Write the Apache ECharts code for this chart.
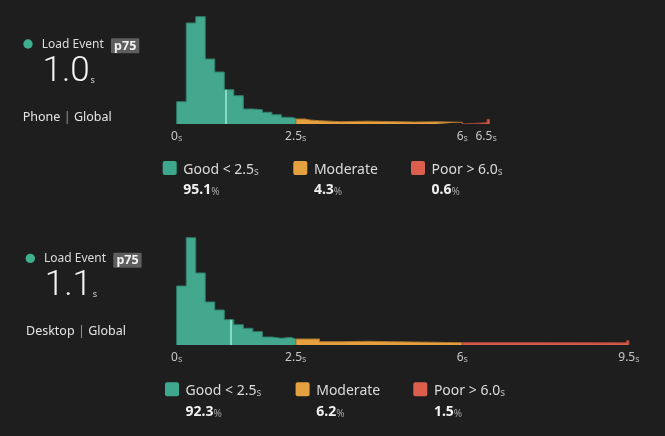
<!DOCTYPE html>
<html>
<head>
<meta charset="utf-8">
<script src="https://cdn.jsdelivr.net/npm/echarts@6/dist/echarts.min.js"></script>
<style>
  html, body { margin: 0; padding: 0; background: #1e1e1e; }
  #chart { width: 665px; height: 436px; }
</style>
</head>
<body>
<div id="chart"></div>
<script>
// histogram bin edges (s) and bar heights
const phoneEdges = [0, 0.2, 0.4, 0.6, 0.8, 1.0, 1.2, 1.4, 1.6, 1.8, 2.0, 2.2, 2.4, 2.5,
  2.7, 2.8, 3.0, 3.45, 4.0, 5.0, 5.45, 6.0, 6.52, 6.57]
const phoneCounts = [22.3, 101, 107.3, 65, 52, 34.3, 28.3, 15, 14.3, 11.7, 9.3, 6.7, 5.7,
  5, 4, 3.3, 2.3, 2.8, 2, 2.2, 1.7, 1.3, 4.7]

const desktopEdges = [0, 0.2, 0.4, 0.6, 0.8, 1.0, 1.2, 1.4, 1.6, 1.8, 2.0, 2.2, 2.4, 2.5,
  3.0, 3.43, 4.0, 4.48, 5.46, 6.0, 7.43, 9.45, 9.5]
const desktopCounts = [59, 107.3, 72, 43, 35, 25.3, 20.3, 16.7, 13.3, 8, 6.7, 7.7, 6,
  6, 3.3, 3.7, 3.3, 2.7, 2.3, 2.4, 2.2, 4.3]

const phoneTicks = [0, 2.5, 6, 6.5]
const desktopTicks = [0, 2.5, 6, 9.5]

const p75Values = [1.04, 1.14]
const phoneShares = [95.1, 4.3, 0.6]
const desktopShares = [92.3, 6.2, 1.5]

const bandLabels = ['Good < 2.5', 'Moderate', 'Poor > 6.0']
const bandUnits = ['s', '', 's']
const GOOD_LIMIT = 2.5
const POOR_LIMIT = 6.0

const COLORS = [
  { fill: '#43a88e', line: '#2f7e6a', key: '#3fa78e' },
  { fill: '#e6a040', line: '#a8742c', key: '#e5a040' },
  { fill: '#d95c49', line: '#a04234', key: '#dc5f4e' }
]
const FONT = '"Noto Sans", "Open Sans", sans-serif'

const panels = [
  { name: 'Phone', edges: phoneEdges, counts: phoneCounts, ticks: phoneTicks,
    shares: phoneShares, p75: p75Values[0],
    gridTop: 14, dx: 0, dy: 0, subDx: 0, legendDx: 0, legendY: 161 },
  { name: 'Desktop', edges: desktopEdges, counts: desktopCounts, ticks: desktopTicks,
    shares: desktopShares, p75: p75Values[1],
    gridTop: 235, dx: 2.3, dy: 214.4, subDx: 3.3, legendDx: 2.3, legendY: 382.3 }
]

const PX_PER_SEC = 47.6
const Y_MAX = 110

// step points for bins lying in [from, to]
function stepData(edges, counts, from, to) {
  const idx = []
  for (let i = 0; i < counts.length; i++) {
    if (edges[i] >= from - 1e-9 && edges[i + 1] <= to + 1e-9) idx.push(i)
  }
  if (!idx.length) return []
  const last = idx[idx.length - 1]
  const pts = [[edges[idx[0]], 0]]
  idx.forEach(i => pts.push([edges[i], counts[i]]))
  pts.push([edges[last + 1], counts[last]])
  pts.push([edges[last + 1], 0])
  return pts
}

function heightAt(edges, counts, x) {
  for (let i = 0; i < counts.length; i++) {
    if (x >= edges[i] && x < edges[i + 1]) return counts[i]
  }
  return 0
}

function buildOption() {
  const grids = []
  const xAxes = []
  const yAxes = []
  const series = []
  const graphics = []

  panels.forEach((p, k) => {
    const xMax = p.edges[p.edges.length - 1]
    grids.push({ left: 176.7, top: p.gridTop, width: xMax * PX_PER_SEC, height: Y_MAX })
    xAxes.push({
      type: 'value', gridIndex: k, min: 0, max: xMax, interval: 0.5,
      axisLine: { show: false }, axisTick: { show: false }, splitLine: { show: false },
      axisLabel: {
        margin: 5,
        showMaxLabel: true,
        formatter: v => p.ticks.some(t => Math.abs(t - v) < 1e-6) ? `{n|${v}}{u|s}` : '',
        rich: {
          n: { fontFamily: FONT, fontSize: 12, color: '#c8c8c8', verticalAlign: 'bottom', lineHeight: 14 },
          u: { fontFamily: FONT, fontSize: 9, color: '#b4b4b4', verticalAlign: 'bottom', lineHeight: 12 }
        }
      }
    })
    yAxes.push({ type: 'value', gridIndex: k, min: 0, max: Y_MAX, show: false })

    const ranges = [[0, GOOD_LIMIT], [GOOD_LIMIT, POOR_LIMIT], [POOR_LIMIT, Infinity]]
    ranges.forEach((r, b) => {
      const s = {
        type: 'line', xAxisIndex: k, yAxisIndex: k, step: 'end',
        symbol: 'none', silent: true,
        data: stepData(p.edges, p.counts, r[0], r[1]),
        lineStyle: { color: COLORS[b].line, width: 1 },
        areaStyle: { color: COLORS[b].fill, opacity: 1 }
      }
      if (b === 0) {
        s.markLine = {
          silent: true, symbol: 'none', label: { show: false },
          lineStyle: { color: 'rgba(160, 240, 218, 0.9)', width: 1.6, type: 'solid' },
          data: [[{ coord: [p.p75, 0] }, { coord: [p.p75, heightAt(p.edges, p.counts, p.p75)] }]]
        }
      }
      series.push(s)
    })

    // left summary block
    graphics.push(
      { type: 'circle', shape: { cx: 28 + p.dx, cy: 44 + p.dy, r: 4.7 }, style: { fill: '#3db08f' } },
      { type: 'text', x: 41.7 + p.dx, y: 44.5 + p.dy,
        style: { text: 'Load Event', font: `12px ${FONT}`, fill: '#dcdcdc', align: 'left', verticalAlign: 'middle' } },
      { type: 'rect', shape: { x: 111 + p.dx, y: 38.3 + p.dy, width: 28.3, height: 15, r: 1 }, style: { fill: '#5e5e5e' } },
      { type: 'text', x: 125.2 + p.dx, y: 46 + p.dy,
        style: { text: 'p75', font: `bold 12.5px ${FONT}`, fill: '#f2f2f2', align: 'center', verticalAlign: 'middle' } },
      { type: 'text', x: 42.5 + p.dx, y: 72 + p.dy,
        style: { text: p.p75.toFixed(1), font: `300 35px Roboto, ${FONT}`, fill: '#f4f4f4', align: 'left', verticalAlign: 'middle' } },
      { type: 'text', x: 90.5 + p.dx, y: 80.5 + p.dy,
        style: { text: 's', font: `9px ${FONT}`, fill: '#d0d0d0', align: 'left', verticalAlign: 'middle' } },
      { type: 'text', x: 22.7 + p.subDx, y: 117.5 + p.dy,
        style: {
          text: `{a|${p.name}} {b||} {a|Global}`, align: 'left', verticalAlign: 'middle',
          rich: {
            a: { font: `12.5px ${FONT}`, fill: '#e4e4e4' },
            b: { font: `12.5px ${FONT}`, fill: '#9a9a9a' }
          }
        } }
    )

    // band legend with shares
    const legendX = [162.7, 293.3, 411]
    bandLabels.forEach((label, b) => {
      const x = legendX[b] + p.legendDx
      const y = p.legendY
      graphics.push(
        { type: 'rect', shape: { x, y, width: 14, height: 14, r: 2 }, style: { fill: COLORS[b].key } },
        { type: 'text', x: x + 20.6, y: y + 7.2,
          style: {
            text: `{t|${label}}{u|${bandUnits[b]}}`, align: 'left', verticalAlign: 'middle',
            rich: {
              t: { font: `14px ${FONT}`, fill: '#dcdcdc', verticalAlign: 'bottom', lineHeight: 18 },
              u: { font: `10px ${FONT}`, fill: '#b8b8b8', verticalAlign: 'bottom', lineHeight: 15 }
            }
          } },
        { type: 'text', x: x + 20.6, y: y + 27.5,
          style: {
            text: `{v|${p.shares[b].toFixed(1)}}{p|%}`, align: 'left', verticalAlign: 'middle',
            rich: {
              v: { font: `bold 14px ${FONT}`, fill: '#f0f0f0', verticalAlign: 'bottom', lineHeight: 18 },
              p: { font: `10px ${FONT}`, fill: '#a8a8a8', verticalAlign: 'bottom', lineHeight: 15 }
            }
          } }
      )
    })
  })

  return {
    backgroundColor: '#1e1e1e',
    animation: false,
    grid: grids,
    xAxis: xAxes,
    yAxis: yAxes,
    series,
    graphic: { elements: graphics }
  }
}

const chart = echarts.init(document.getElementById('chart'))
chart.setOption(buildOption())
</script>
</body>
</html>
